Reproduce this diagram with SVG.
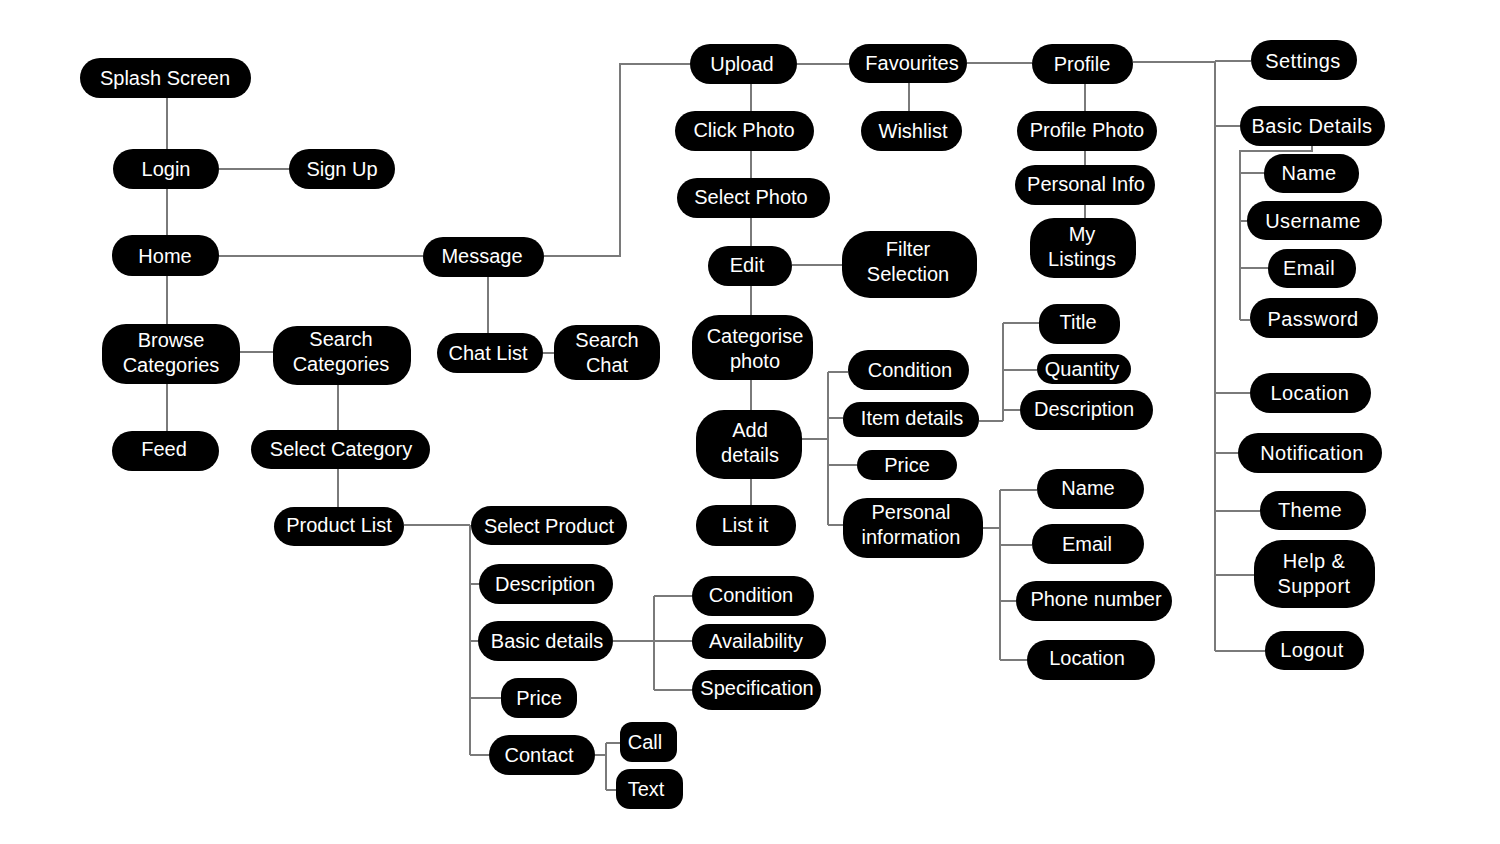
<svg xmlns="http://www.w3.org/2000/svg" width="1500" height="844" viewBox="0 0 1500 844">
<style>
.bg{fill:#fff}
.n rect{fill:#000}
.n text{fill:#fff;font-family:"Liberation Sans",Arial,sans-serif;font-size:20px;text-anchor:middle}
.r text{letter-spacing:0.4px}
.c path{fill:none;stroke:#7a7a7a;stroke-width:2}
</style>
<rect class="bg" x="0" y="0" width="1500" height="844"/>
<g class="c" id="connectors">
<path d="M167 98V149M219 169H289M167 189V235M219 256H423M167 276V324M167 384V431M240 352H273M338 385V430M338 469V507"/>
<path d="M404 525H470M470 525V755M470 584H479M470 641H478M470 698H501M470 755H489"/>
<path d="M613 641H692M654 596V690M654 596H692M654 690H692"/>
<path d="M595 755H606M606 743V790M606 743H620M606 790H616"/>
<path d="M488 277V333M543 353H554"/>
<path d="M544 256H620V64H690M797 64H849M967 63H1032M909 83V111"/>
<path d="M751 84V505M792 265H842"/>
<path d="M802 439H828M828 372V525M828 372H848M828 418H843M828 465H857M828 525H843"/>
<path d="M979 421H1003M1003 323V421M1003 323H1039M1003 370H1037M1003 410H1020"/>
<path d="M983 528H1000M1000 490V660M1000 490H1037M1000 545H1032M1000 601H1016M1000 660H1027"/>
<path d="M1085 84V218"/>
<path d="M1133 62H1215M1215 61V651M1215 61H1251M1215 126H1240M1215 393H1250M1215 453H1238M1215 511H1260M1215 575H1254M1215 651H1265"/>
<path d="M1312 146V151H1240V320M1240 173H1264M1240 221H1247M1240 268H1268M1240 320H1250"/>
</g>
<g class="n" id="splash"><rect x="80" y="58" width="171" height="40" rx="20"/><text x="165" y="85">Splash Screen</text></g>
<g class="n" id="login"><rect x="113" y="149" width="106" height="40" rx="20"/><text x="166" y="176">Login</text></g>
<g class="n" id="signup"><rect x="289" y="149" width="106" height="40" rx="20"/><text x="342" y="176">Sign Up</text></g>
<g class="n" id="home"><rect x="112" y="235" width="107" height="41" rx="20"/><text x="165" y="263">Home</text></g>
<g class="n" id="message"><rect x="423" y="237" width="121" height="40" rx="20"/><text x="482" y="263">Message</text></g>
<g class="n" id="browse"><rect x="102" y="324" width="138" height="60" rx="24"/><text x="171" y="347">Browse</text><text x="171" y="372">Categories</text></g>
<g class="n" id="searchcat"><rect x="273" y="326" width="138" height="59" rx="24"/><text x="341" y="346">Search</text><text x="341" y="371">Categories</text></g>
<g class="n" id="chatlist"><rect x="437" y="333" width="106" height="40" rx="20"/><text x="488" y="360">Chat List</text></g>
<g class="n" id="searchchat"><rect x="554" y="325" width="106" height="55" rx="22"/><text x="607" y="347">Search</text><text x="607" y="372">Chat</text></g>
<g class="n" id="feed"><rect x="112" y="431" width="107" height="40" rx="20"/><text x="164" y="456">Feed</text></g>
<g class="n" id="selectcat"><rect x="251" y="430" width="179" height="39" rx="20"/><text x="341" y="456">Select Category</text></g>
<g class="n" id="productlist"><rect x="274" y="507" width="130" height="39" rx="20"/><text x="339" y="532">Product List</text></g>
<g class="n" id="selectproduct"><rect x="471" y="506" width="156" height="39" rx="20"/><text x="549" y="533">Select Product</text></g>
<g class="n" id="pl-description"><rect x="479" y="564" width="134" height="40" rx="20"/><text x="545" y="591">Description</text></g>
<g class="n" id="pl-basic"><rect x="478" y="621" width="135" height="40" rx="20"/><text x="547" y="648">Basic details</text></g>
<g class="n" id="pl-price"><rect x="501" y="678" width="76" height="40" rx="17"/><text x="539" y="705">Price</text></g>
<g class="n" id="pl-contact"><rect x="489" y="735" width="106" height="40" rx="20"/><text x="539" y="762">Contact</text></g>
<g class="n" id="pl-call"><rect x="620" y="722" width="57" height="40" rx="12"/><text x="645" y="749">Call</text></g>
<g class="n" id="pl-text"><rect x="616" y="769" width="67" height="40" rx="14"/><text x="646" y="796">Text</text></g>
<g class="n" id="pl-condition"><rect x="692" y="576" width="122" height="40" rx="20"/><text x="751" y="602">Condition</text></g>
<g class="n" id="pl-availability"><rect x="692" y="624" width="134" height="35" rx="17"/><text x="756" y="648">Availability</text></g>
<g class="n" id="pl-spec"><rect x="692" y="670" width="129" height="40" rx="20"/><text x="757" y="695">Specification</text></g>
<g class="n" id="upload"><rect x="690" y="44" width="107" height="40" rx="20"/><text x="742" y="71">Upload</text></g>
<g class="n" id="favourites"><rect x="849" y="44" width="118" height="39" rx="20"/><text x="912" y="70">Favourites</text></g>
<g class="n" id="profile"><rect x="1032" y="44" width="101" height="40" rx="20"/><text x="1082" y="71">Profile</text></g>
<g class="n" id="clickphoto"><rect x="675" y="111" width="139" height="40" rx="20"/><text x="744" y="137">Click Photo</text></g>
<g class="n" id="wishlist"><rect x="861" y="111" width="101" height="40" rx="20"/><text x="913" y="138">Wishlist</text></g>
<g class="n" id="selectphoto"><rect x="677" y="178" width="153" height="40" rx="20"/><text x="751" y="204">Select Photo</text></g>
<g class="n" id="edit"><rect x="708" y="246" width="84" height="40" rx="20"/><text x="747" y="272">Edit</text></g>
<g class="n" id="filter"><rect x="842" y="231" width="135" height="67" rx="28"/><text x="908" y="256">Filter</text><text x="908" y="281">Selection</text></g>
<g class="n" id="categorise"><rect x="692" y="315" width="121" height="65" rx="27"/><text x="755" y="343">Categorise</text><text x="755" y="368">photo</text></g>
<g class="n" id="adddetails"><rect x="696" y="410" width="106" height="69" rx="28"/><text x="750" y="437">Add</text><text x="750" y="462">details</text></g>
<g class="n" id="listit"><rect x="696" y="505" width="100" height="41" rx="20"/><text x="745" y="532">List it</text></g>
<g class="n" id="ad-condition"><rect x="848" y="350" width="121" height="40" rx="20"/><text x="910" y="377">Condition</text></g>
<g class="n" id="ad-item"><rect x="843" y="402" width="136" height="35" rx="17"/><text x="912" y="425">Item details</text></g>
<g class="n" id="ad-price"><rect x="857" y="450" width="100" height="30" rx="15"/><text x="907" y="472">Price</text></g>
<g class="n" id="ad-personal"><rect x="843" y="498" width="140" height="60" rx="24"/><text x="911" y="519">Personal</text><text x="911" y="544">information</text></g>
<g class="n" id="id-title"><rect x="1039" y="304" width="81" height="40" rx="18"/><text x="1078" y="329">Title</text></g>
<g class="n" id="id-quantity"><rect x="1037" y="354" width="94" height="30" rx="15"/><text x="1082" y="376">Quantity</text></g>
<g class="n" id="id-description"><rect x="1020" y="390" width="133" height="40" rx="20"/><text x="1084" y="416">Description</text></g>
<g class="n" id="pi-name"><rect x="1037" y="469" width="107" height="40" rx="20"/><text x="1088" y="495">Name</text></g>
<g class="n" id="pi-email"><rect x="1032" y="524" width="112" height="40" rx="20"/><text x="1087" y="551">Email</text></g>
<g class="n" id="pi-phone"><rect x="1016" y="581" width="156" height="40" rx="20"/><text x="1096" y="606">Phone number</text></g>
<g class="n" id="pi-location"><rect x="1027" y="640" width="128" height="40" rx="20"/><text x="1087" y="665">Location</text></g>
<g class="n" id="profilephoto"><rect x="1017" y="111" width="140" height="40" rx="20"/><text x="1087" y="137">Profile Photo</text></g>
<g class="n" id="personalinfo"><rect x="1015" y="165" width="140" height="40" rx="20"/><text x="1086" y="191">Personal Info</text></g>
<g class="n" id="mylistings"><rect x="1030" y="218" width="106" height="60" rx="24"/><text x="1082" y="241">My</text><text x="1082" y="266">Listings</text></g>
<g class="n r" id="settings"><rect x="1251" y="40" width="106" height="40" rx="20"/><text x="1303" y="68">Settings</text></g>
<g class="n r" id="basicdetails"><rect x="1240" y="106" width="145" height="40" rx="20"/><text x="1312" y="133">Basic Details</text></g>
<g class="n r" id="bd-name"><rect x="1264" y="154" width="95" height="39" rx="19"/><text x="1309" y="180">Name</text></g>
<g class="n r" id="bd-username"><rect x="1247" y="201" width="135" height="39" rx="19"/><text x="1313" y="228">Username</text></g>
<g class="n r" id="bd-email"><rect x="1268" y="249" width="88" height="39" rx="19"/><text x="1309" y="275">Email</text></g>
<g class="n r" id="bd-password"><rect x="1250" y="298" width="128" height="40" rx="20"/><text x="1313" y="326">Password</text></g>
<g class="n r" id="location"><rect x="1250" y="373" width="121" height="40" rx="20"/><text x="1310" y="400">Location</text></g>
<g class="n r" id="notification"><rect x="1238" y="433" width="144" height="40" rx="20"/><text x="1312" y="460">Notification</text></g>
<g class="n r" id="theme"><rect x="1260" y="491" width="106" height="39" rx="19"/><text x="1310" y="517">Theme</text></g>
<g class="n r" id="help"><rect x="1254" y="540" width="121" height="68" rx="28"/><text x="1314" y="568">Help &amp;</text><text x="1314" y="593">Support</text></g>
<g class="n r" id="logout"><rect x="1265" y="631" width="99" height="39" rx="19"/><text x="1312" y="657">Logout</text></g>
</svg>
